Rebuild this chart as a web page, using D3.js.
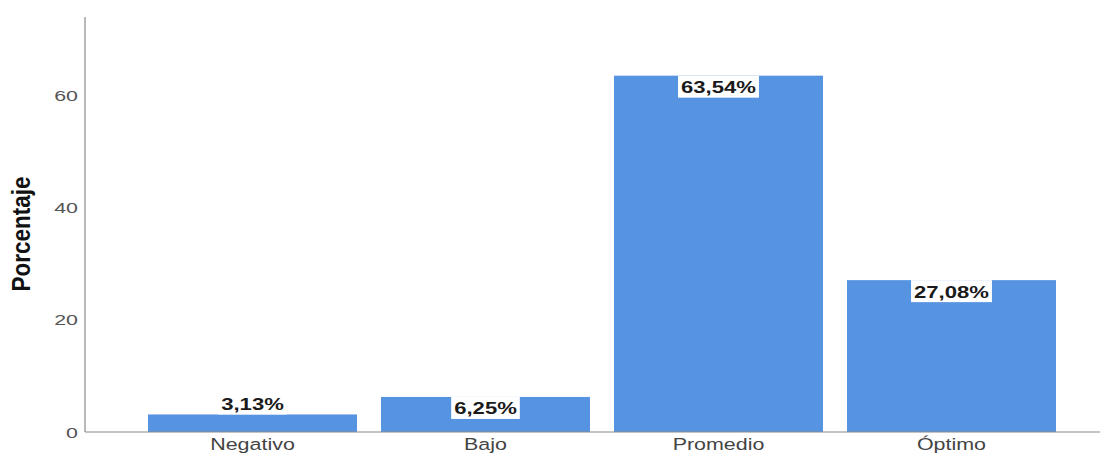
<!DOCTYPE html>
<html>
<head>
<meta charset="utf-8">
<script src="https://cdn.jsdelivr.net/npm/d3@7"></script>
<style>
  body { margin: 0; background: #fff; }
  svg { display: block; }
</style>
</head>
<body>
<div id="chart"></div>
<script>
// data
const categories = ["Negativo", "Bajo", "Promedio", "Óptimo"];
const values = [3.13, 6.25, 63.54, 27.08];
const valueLabels = ["3,13%", "6,25%", "63,54%", "27,08%"];
const yTicks = [0, 20, 40, 60];

const width = 1106, height = 454;
const svg = d3.select("#chart").append("svg").attr("width", width).attr("height", height);

const axisX = 85, baseY = 432, topY = 17, rightX = 1100;

const x = d3.scaleBand().domain(categories).range([136, 1068])
    .paddingInner(0.103).paddingOuter(0.0515);
const y = d3.scaleLinear().domain([0, 74]).range([baseY, topY]);

// bars
svg.selectAll("rect.bar")
    .data(values)
    .enter()
    .append("rect")
    .attr("class", "bar")
    .attr("x", (d, i) => x(categories[i]))
    .attr("y", d => y(d))
    .attr("width", x.bandwidth())
    .attr("height", d => y(0) - y(d))
    .attr("fill", "#5694e2");

// axes lines
svg.append("line").attr("x1", axisX).attr("x2", axisX).attr("y1", topY).attr("y2", baseY)
    .attr("stroke", "#8a8a8a").attr("stroke-width", 1.2);
svg.append("line").attr("x1", axisX).attr("x2", rightX).attr("y1", baseY).attr("y2", baseY)
    .attr("stroke", "#8a8a8a").attr("stroke-width", 1.2);

// y tick labels (picture is stretched sideways, so text is too)
svg.selectAll("text.ytick")
    .data(yTicks)
    .enter()
    .append("text")
    .attr("class", "ytick")
    .attr("transform", d => `translate(78,${y(d) + 5.5}) scale(1.38,1)`)
    .attr("text-anchor", "end")
    .attr("font-family", "Liberation Sans, Arial, sans-serif")
    .attr("font-size", 15.5)
    .attr("fill", "#555")
    .text(d => d);

// x category labels
svg.selectAll("text.xcat")
    .data(categories)
    .enter()
    .append("text")
    .attr("class", "xcat")
    .attr("transform", d => `translate(${x(d) + x.bandwidth() / 2},450) scale(1.3,1)`)
    .attr("text-anchor", "middle")
    .attr("font-family", "Liberation Sans, Arial, sans-serif")
    .attr("font-size", 16.5)
    .attr("fill", "#444")
    .text(d => d);

// y title
svg.append("text")
    .attr("transform", `translate(30,234) scale(1.12,1) rotate(-90)`)
    .attr("text-anchor", "middle")
    .attr("font-family", "Liberation Sans Narrow, Arial Narrow, Liberation Sans, sans-serif")
    .attr("font-weight", "bold")
    .attr("font-size", 22.5)
    .attr("fill", "#111")
    .text("Porcentaje");

// value labels with white boxes
const boxH = 22, lsx = 1.3;
const lab = svg.selectAll("g.vlab")
    .data(values)
    .enter()
    .append("g")
    .attr("class", "vlab")
    .attr("transform", (d, i) => {
        const top = (y(0) - y(d) < boxH) ? y(d) - boxH : y(d);
        return `translate(${x(categories[i]) + x.bandwidth() / 2},${top})`;
    });

lab.append("text")
    .attr("transform", `translate(0,17.5) scale(${lsx},1)`)
    .attr("text-anchor", "middle")
    .attr("font-family", "Liberation Sans, Arial, sans-serif")
    .attr("font-weight", "bold")
    .attr("font-size", 17)
    .attr("fill", "#1a1a1a")
    .text((d, i) => valueLabels[i])
    .each(function () {
        const bb = this.getBBox();
        const w = bb.width * lsx + 6;
        d3.select(this.parentNode).insert("rect", "text")
            .attr("x", -w / 2).attr("y", 0)
            .attr("width", w).attr("height", boxH)
            .attr("fill", "#fff");
    });
</script>
</body>
</html>
